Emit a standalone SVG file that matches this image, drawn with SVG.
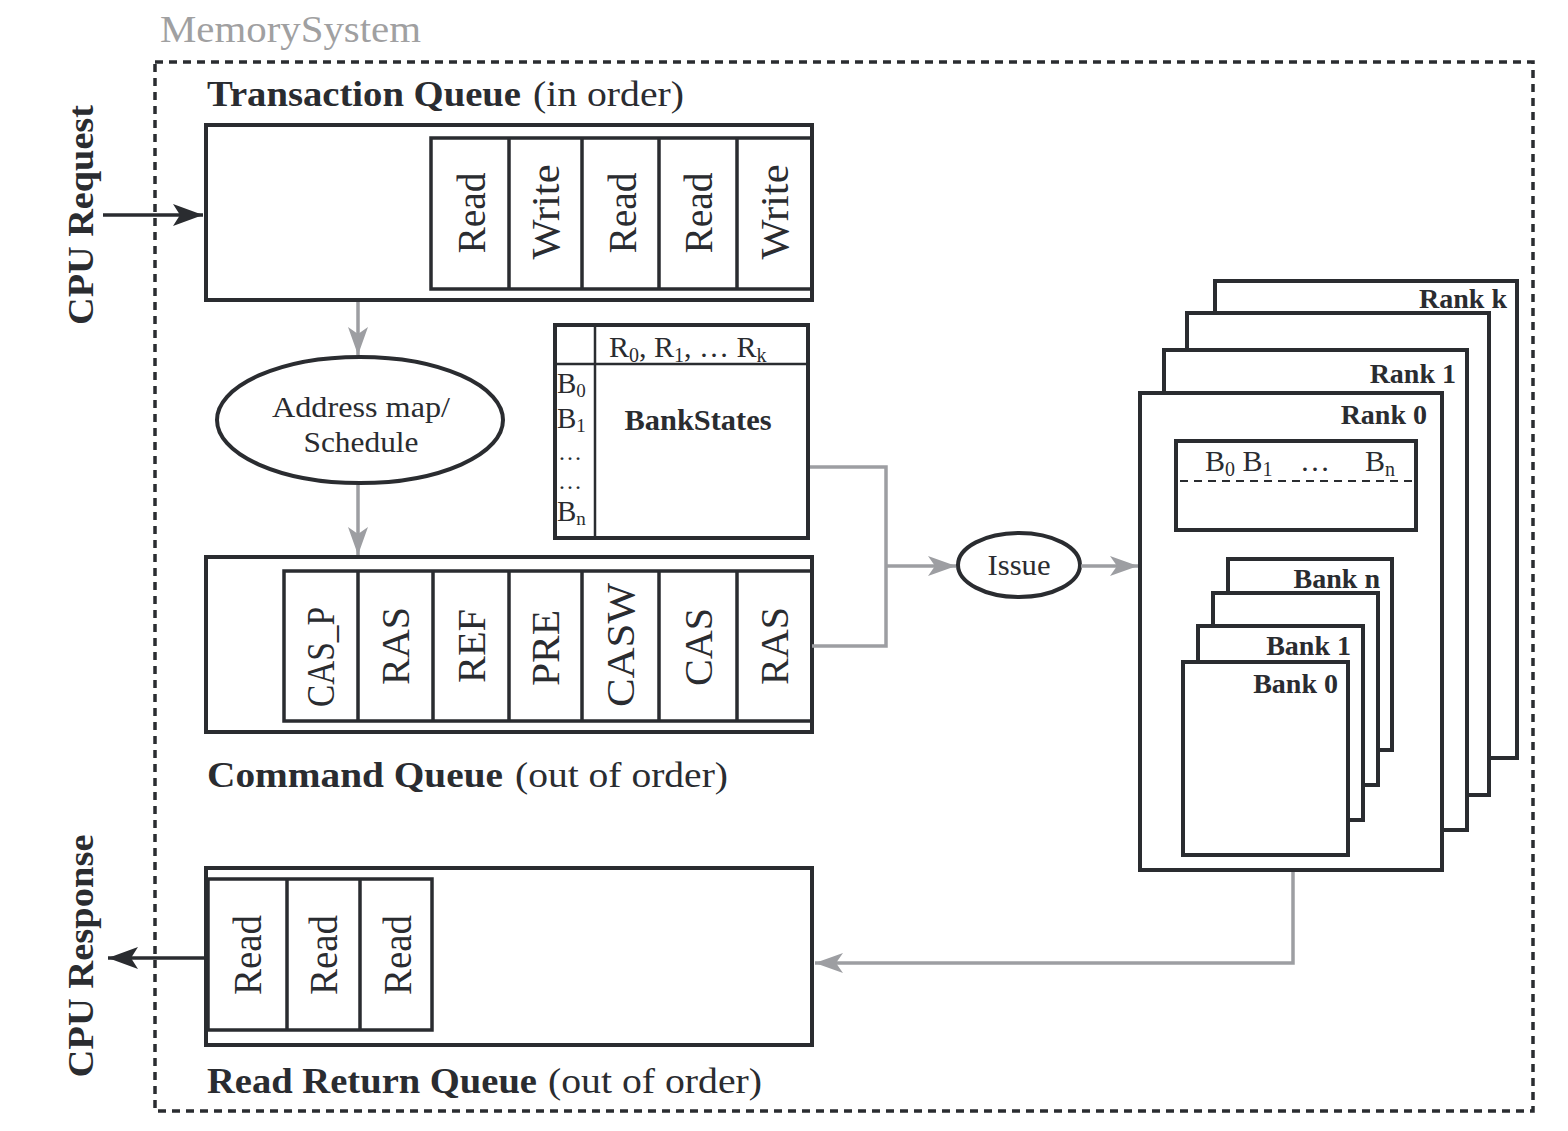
<svg xmlns="http://www.w3.org/2000/svg" width="1568" height="1131" viewBox="0 0 1568 1131">
<defs>
<marker id="arrDark" markerUnits="userSpaceOnUse" markerWidth="32" markerHeight="24" refX="30" refY="11" orient="auto">
<path d="M0,0 L30,11 L0,22 L7,11 z" fill="#2a2c30"/>
</marker>
<marker id="arrGray" markerUnits="userSpaceOnUse" markerWidth="30" markerHeight="22" refX="28" refY="10" orient="auto">
<path d="M0,0 L28,10 L0,20 L7,10 z" fill="#9d9ea2"/>
</marker>
</defs>
<style>
text{font-family:"Liberation Serif","DejaVu Serif",serif;fill:#2a2c30}
.box{fill:#fff;stroke:#2a2c30;stroke-width:4}
.cell{fill:none;stroke:#2a2c30;stroke-width:3.5}
.thin{fill:none;stroke:#2a2c30;stroke-width:2.5}
.gray{fill:none;stroke:#9d9ea2;stroke-width:3.5}
.dark{fill:none;stroke:#2a2c30;stroke-width:3.5}
.title{font-size:36px}
.b{font-weight:bold}
.cl{font-size:40px;text-anchor:middle}
.lab{font-size:29px}
.rk{font-size:28px;font-weight:bold;text-anchor:end}
</style>

<g id="memory-system">
<text x="160" y="42" font-size="38" style="fill:#a0a0a1" textLength="261" lengthAdjust="spacingAndGlyphs">MemorySystem</text>
<rect x="155" y="62" width="1378" height="1049" fill="none" stroke="#2a2c30" stroke-width="3.5" stroke-dasharray="8 6"/>
</g>

<g id="cpu-request">
<text transform="translate(93,215) rotate(-90)" class="title b" text-anchor="middle" textLength="220" lengthAdjust="spacingAndGlyphs">CPU Request</text>
</g>
<g id="cpu-response">
<text transform="translate(93,956) rotate(-90)" class="title b" text-anchor="middle" textLength="243" lengthAdjust="spacingAndGlyphs">CPU Response</text>
</g>

<g id="transaction-queue">
<text x="207" y="106" class="title b" textLength="314" lengthAdjust="spacingAndGlyphs">Transaction Queue</text>
<text x="533" y="106" class="title" textLength="151" lengthAdjust="spacingAndGlyphs">(in order)</text>
<rect class="box" x="206" y="125" width="606" height="175"/>
<rect class="cell" x="431" y="138" width="381" height="151"/>
<path class="cell" d="M509,138V289M582,138V289M659,138V289M737,138V289"/>
<text class="cl" transform="translate(485,213) rotate(-90)" textLength="81" lengthAdjust="spacingAndGlyphs">Read</text>
<text class="cl" transform="translate(559,212) rotate(-90)" textLength="95" lengthAdjust="spacingAndGlyphs">Write</text>
<text class="cl" transform="translate(636,213) rotate(-90)" textLength="81" lengthAdjust="spacingAndGlyphs">Read</text>
<text class="cl" transform="translate(712,213) rotate(-90)" textLength="81" lengthAdjust="spacingAndGlyphs">Read</text>
<text class="cl" transform="translate(788,212) rotate(-90)" textLength="95" lengthAdjust="spacingAndGlyphs">Write</text>
</g>

<g id="address-map">
<ellipse cx="360" cy="420" rx="143" ry="63" fill="#fff" stroke="#2a2c30" stroke-width="4"/>
<text x="361" y="417" class="lab" text-anchor="middle" textLength="178" lengthAdjust="spacingAndGlyphs">Address map/</text>
<text x="361" y="452" class="lab" text-anchor="middle" textLength="115" lengthAdjust="spacingAndGlyphs">Schedule</text>
</g>

<g id="bank-states">
<rect class="box" x="555" y="325" width="253" height="213"/>
<path class="thin" d="M595,325V538M555,364H808"/>
<text x="609" y="357" font-size="30">R<tspan font-size="20" dy="5">0</tspan><tspan dy="-5">, R</tspan><tspan font-size="20" dy="5">1</tspan><tspan dy="-5">, …  R</tspan><tspan font-size="20" dy="5">k</tspan></text>
<text x="557" y="393" font-size="29">B<tspan font-size="19" dy="4">0</tspan></text>
<text x="557" y="428" font-size="29">B<tspan font-size="19" dy="4">1</tspan></text>
<text x="558" y="460" font-size="24">…</text>
<text x="558" y="489" font-size="24">…</text>
<text x="557" y="521" font-size="29">B<tspan font-size="19" dy="4">n</tspan></text>
<text x="698" y="430" font-size="29" font-weight="bold" text-anchor="middle" textLength="147" lengthAdjust="spacingAndGlyphs">BankStates</text>
</g>

<g id="command-queue">
<rect class="box" x="206" y="557" width="606" height="175"/>
<rect class="cell" x="284" y="571" width="528" height="150"/>
<path class="cell" d="M358,571V721M433,571V721M509,571V721M582,571V721M659,571V721M737,571V721"/>
<text class="cl" transform="translate(334,657) rotate(-90)" textLength="100" lengthAdjust="spacingAndGlyphs">CAS_P</text>
<text class="cl" transform="translate(409,646) rotate(-90)" textLength="78" lengthAdjust="spacingAndGlyphs">RAS</text>
<text class="cl" transform="translate(485,646) rotate(-90)" textLength="74" lengthAdjust="spacingAndGlyphs">REF</text>
<text class="cl" transform="translate(559,648) rotate(-90)" textLength="76" lengthAdjust="spacingAndGlyphs">PRE</text>
<text class="cl" transform="translate(634,645) rotate(-90)" textLength="124" lengthAdjust="spacingAndGlyphs">CASW</text>
<text class="cl" transform="translate(712,647) rotate(-90)" textLength="78" lengthAdjust="spacingAndGlyphs">CAS</text>
<text class="cl" transform="translate(788,646) rotate(-90)" textLength="78" lengthAdjust="spacingAndGlyphs">RAS</text>
<text x="207" y="787" class="title b" textLength="296" lengthAdjust="spacingAndGlyphs">Command Queue</text>
<text x="515" y="787" class="title" textLength="213" lengthAdjust="spacingAndGlyphs">(out of order)</text>
</g>

<g id="issue">
<ellipse cx="1019" cy="565" rx="61" ry="32" fill="#fff" stroke="#2a2c30" stroke-width="4"/>
<text x="1019" y="575" class="lab" text-anchor="middle" textLength="63" lengthAdjust="spacingAndGlyphs">Issue</text>
</g>

<g id="ranks">
<rect class="box" x="1215" y="281" width="302" height="477"/>
<text x="1507" y="308" class="rk">Rank k</text>
<rect class="box" x="1187" y="313" width="302" height="482"/>
<rect class="box" x="1164" y="350" width="303" height="480"/>
<text x="1456" y="383" class="rk">Rank 1</text>
<rect class="box" x="1140" y="393" width="302" height="477"/>
<text x="1427" y="424" class="rk">Rank 0</text>
<rect class="box" x="1176" y="441" width="240" height="89"/>
<path d="M1180,481H1412" fill="none" stroke="#2a2c30" stroke-width="1.8" stroke-dasharray="8 6"/>
<text x="1205" y="471" font-size="30">B<tspan font-size="20" dy="5">0</tspan><tspan dy="-5"> B</tspan><tspan font-size="20" dy="5">1</tspan></text>
<text x="1300" y="471" font-size="30">…</text>
<text x="1365" y="471" font-size="30">B<tspan font-size="20" dy="5">n</tspan></text>
</g>

<g id="banks">
<rect class="box" x="1228" y="559" width="164" height="191"/>
<text x="1380" y="588" class="rk">Bank n</text>
<rect class="box" x="1213" y="593" width="165" height="192"/>
<rect class="box" x="1198" y="626" width="165" height="194"/>
<text x="1351" y="655" class="rk">Bank 1</text>
<rect class="box" x="1183" y="662" width="165" height="193"/>
<text x="1338" y="693" class="rk">Bank 0</text>
</g>

<g id="read-return-queue">
<rect class="box" x="206" y="868" width="606" height="177"/>
<rect class="cell" x="208" y="879" width="224" height="151"/>
<path class="cell" d="M287,879V1030M360,879V1030"/>
<text class="cl" transform="translate(261,955) rotate(-90)" textLength="80" lengthAdjust="spacingAndGlyphs">Read</text>
<text class="cl" transform="translate(337,955) rotate(-90)" textLength="80" lengthAdjust="spacingAndGlyphs">Read</text>
<text class="cl" transform="translate(411,955) rotate(-90)" textLength="80" lengthAdjust="spacingAndGlyphs">Read</text>
<text x="207" y="1093" class="title b" textLength="330" lengthAdjust="spacingAndGlyphs">Read Return Queue</text>
<text x="548" y="1093" class="title" textLength="214" lengthAdjust="spacingAndGlyphs">(out of order)</text>
</g>

<g id="connectors">
<path class="dark" d="M103,215H203" marker-end="url(#arrDark)"/>
<path class="dark" d="M205,958H108" marker-end="url(#arrDark)"/>
<path class="gray" d="M358,302V355" marker-end="url(#arrGray)"/>
<path class="gray" d="M358,485V555" marker-end="url(#arrGray)"/>
<path class="gray" d="M810,467H886V646H812"/>
<path class="gray" d="M886,566H956" marker-end="url(#arrGray)"/>
<path class="gray" d="M1081,566H1138" marker-end="url(#arrGray)"/>
<path class="gray" d="M1293,872V963H815" marker-end="url(#arrGray)"/>
</g>
</svg>
